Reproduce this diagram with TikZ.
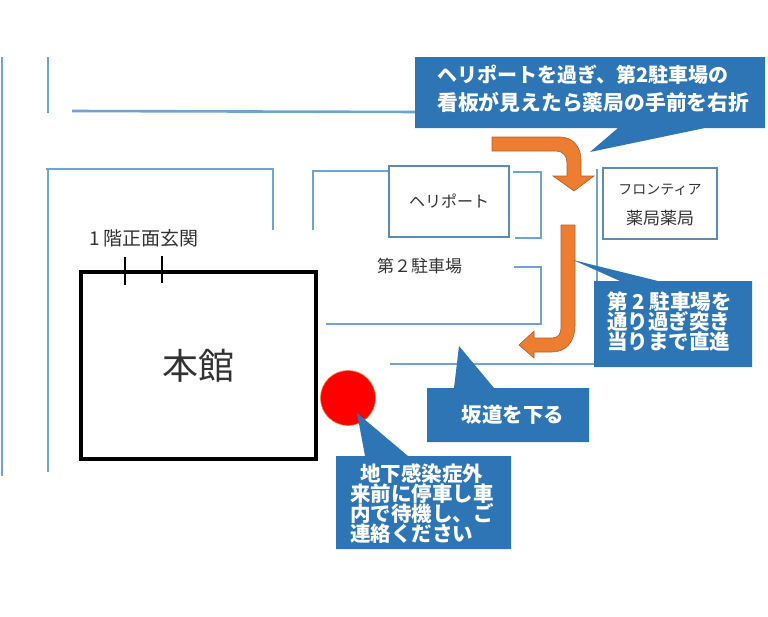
\documentclass[tikz,border=0pt]{standalone}
\usepackage{fontspec}
\setmainfont{Noto Sans CJK JP}
\definecolor{roadblue}{HTML}{6FA3D6}
\definecolor{calloutblue}{HTML}{2E75B6}
\definecolor{turnorange}{HTML}{ED7D31}
\definecolor{labelgray}{HTML}{333333}
\tikzset{road/.style={draw=roadblue, line width=2.6pt}}
\tikzset{callout/.style={fill=calloutblue}}
\tikzset{turn/.style={fill=turnorange, draw=turnorange!75!black, line width=0.6pt}}
\tikzset{place/.style={draw=roadblue!85!black, line width=1.6pt, fill=white}}
\tikzset{maplabel/.style={text=labelgray, inner sep=0pt}}
\tikzset{whitelabel/.style={text=white, inner sep=0pt, font=\bfseries\fontsize{20.5}{20}\selectfont, align=left}}

\begin{document}
\begin{tikzpicture}[x=1pt,y=-1pt]
\useasboundingbox (0,0) rectangle (768,616);
% roads
\draw[road] (2,57) -- (2,476);
\draw[road] (48,57) -- (48,113);
\draw[road] (72,111) -- (420,112);
\draw[road] (48,472) -- (48,169);
\draw[road] (46,169) -- (273,169) -- (273,230);
\draw[road] (313,230) -- (313,171) -- (392,171);
\draw[road] (513,172) -- (541,172) -- (541,238) -- (515,238);
\draw[road] (514,267) -- (541,267) -- (541,324) -- (326,324);
\draw[road] (390,364) -- (600,364);
\draw[road] (597,169) -- (597,300);
% places
\node[place, minimum width=120pt, minimum height=71pt] (heliport) at (449,201.5) {};
\node[maplabel, font=\fontsize{16}{16}\selectfont] (heliportlabel) at (heliport) {ヘリポート};
\node[place, minimum width=114pt, minimum height=71pt] (pharmacy) at (660,203.5) {};
\node[maplabel, font=\fontsize{14}{14}\selectfont] (frontier) at (660,190) {フロンティア};
\node[maplabel, font=\fontsize{17}{17}\selectfont] (yakkyoku) at (660,218) {薬局薬局};
\node[maplabel, font=\fontsize{17}{17}\selectfont] (parking) at (419.5,266) {第２駐車場};
% main building
\node[draw=black, line width=4pt, minimum width=235pt, minimum height=187pt] (honkan) at (198.5,365.5) {};
\node[maplabel, font=\fontsize{36}{36}\selectfont] (honkanlabel) at (honkan) {本館};
\node[maplabel, font=\fontsize{19}{19}\selectfont] (entrance) at (144,238) {1 階正面玄関};
\draw[line width=2pt] (125,257) -- (125,285);
\draw[line width=2pt] (162,256) -- (162,283);
\node[circle, fill=red, draw=turnorange, line width=0.6pt, minimum size=55pt] (wait) at (348,398) {};
% arrows
\path[turn] (492,137) -- (560,137) .. controls (573,137) and (581,147) .. (581,160)
    -- (581,176) -- (594,176) -- (574,191) -- (553,176) -- (567,176) -- (567,163)
    .. controls (567,156) and (563,151) .. (556,151) -- (492,151) -- cycle;
\path[turn] (575,225) -- (575,325) .. controls (575,342) and (566,352) .. (552,352)
    -- (534,352) -- (534,358) -- (519,345) -- (534,331) -- (534,338) -- (552,338)
    .. controls (558,338) and (561,334) .. (561,328) -- (561,225) -- cycle;
% callouts
\path[callout] (415,57) -- (765,57) -- (765,128) -- (705,128) -- (590,152) -- (618,128) -- (415,128) -- cycle;
\node[whitelabel, font=\bfseries\fontsize{20}{28}\selectfont, anchor=west] (turnnote) at (437,75) {ヘリポートを過ぎ、第2駐車場の};
\node[whitelabel, font=\bfseries\fontsize{20.8}{28}\selectfont, anchor=west] (turnnotetwo) at (437,102) {看板が見えたら薬局の手前を右折};
\path[callout] (594,281) -- (620,281) -- (573,260) -- (658,281) -- (752,281) -- (752,367) -- (594,367) -- cycle;
\node[whitelabel, anchor=west] (straightnote) at (607,322) {第 2 駐車場を\\通り過ぎ突き\\当りまで直進};
\path[callout] (427,388) -- (454,388) -- (459,346) -- (494,388) -- (589,388) -- (589,442) -- (427,442) -- cycle;
\node[whitelabel] (slopenote) at (513,415) {坂道を下る};
\path[callout] (336,456) -- (365,456) -- (357,413) -- (408,456) -- (511,456) -- (511,549) -- (336,549) -- cycle;
\node[whitelabel, anchor=west] (parknote) at (350,504) {\hspace*{10pt}地下感染症外\\来前に停車し車\\内で待機し、ご\\連絡ください};
\end{tikzpicture}
\end{document}
